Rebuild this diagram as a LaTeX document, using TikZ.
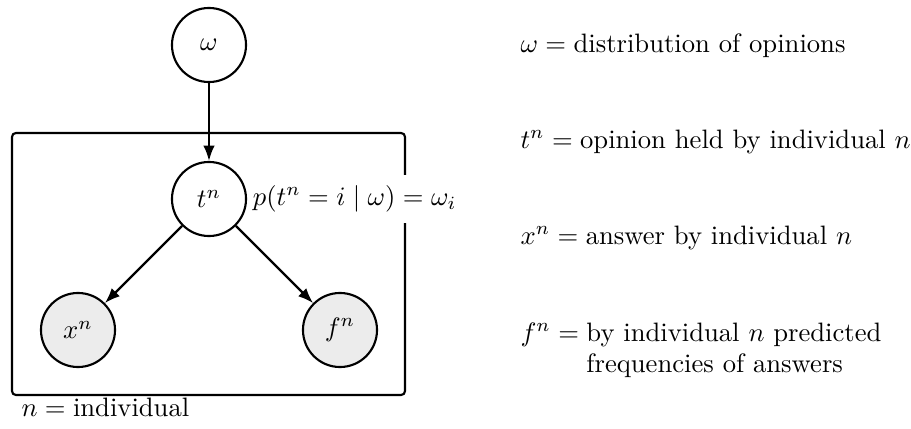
\documentclass[tikz,border=0pt]{standalone}
\usetikzlibrary{arrows.meta}
\begin{document}
\begin{tikzpicture}[x=0.3755pt,y=-0.3755pt,
  var/.style={circle,draw,line width=0.8pt,minimum size=27.8pt,inner sep=0pt},
  obs/.style={var,fill=gray!15},
  edge/.style={line width=0.8pt,-{Latex[length=5.7pt,width=4.3pt]}},
  plate/.style={draw,line width=0.8pt,rounded corners=1.5pt,minimum width=147.6pt,minimum height=98.4pt,inner sep=0pt},
  desc/.style={anchor=base west,inner sep=0pt}]
\useasboundingbox (0,0) rectangle (911,429);
% plate
\node[plate] (platebox) at (208.5,264) {};
\node[desc] (platelabel) at (21,416) {$n = {}$individual};
% nodes
\node[var] (w) at (209,45) {$\omega$};
\node[var] (t) at (209,199) {$t^n$};
\node[obs] (x) at (78,330) {$x^n$};
\node[obs] (f) at (340,330) {$f^n$};
% edges
\draw[edge] (w) -- (t);
\draw[edge] (t) -- (x);
\draw[edge] (t) -- (f);
% likelihood label
\node[anchor=west,fill=white,inner xsep=1pt,inner ysep=4pt,xshift=1pt] (lik) at (t.east) {$p(t^n = i \mid \omega) = \omega_i$};
% legend
\node[desc] (dw) at (520,52) {$\omega = {}$distribution of opinions};
\node[desc] (dt) at (520,148) {$t^n = {}$opinion held by individual $n$};
\node[desc] (dx) at (520,244) {$x^n = {}$answer by individual $n$};
\node[desc] (df) at (520,341) {\begin{tabular}[t]{@{}l@{}l@{}}$f^n = {}$&by individual $n$ predicted\\&frequencies of answers\end{tabular}};
\end{tikzpicture}
\end{document}
